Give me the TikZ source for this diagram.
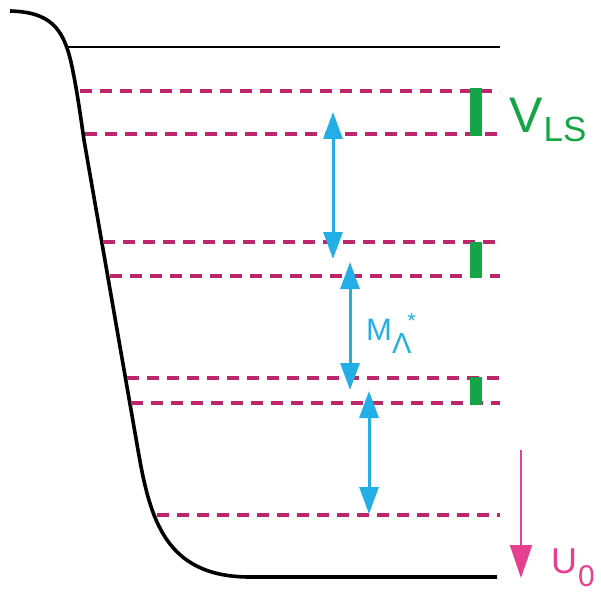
\documentclass[tikz,border=0pt]{standalone}
\usepackage{fontspec}
\setmainfont{Liberation Sans}
\usetikzlibrary{arrows.meta}
\definecolor{lvl}{RGB}{190,38,108}
\definecolor{grn}{RGB}{20,165,70}
\definecolor{blu}{RGB}{35,175,230}
\definecolor{pnk}{RGB}{228,64,142}
\tikzset{
  wall/.style={line width=3.6pt, black, line join=round},
  lvlline/.style={line width=4pt, lvl, dash pattern=on 12pt off 8pt},
  gbar/.style={line width=12pt, grn},
  barrow/.style={line width=3pt, blu, {Triangle[length=27pt,width=19pt]}-{Triangle[length=27pt,width=19pt]}},
  parrow/.style={line width=2.2pt, pnk, -{Triangle[length=33pt,width=22pt]}},
  lbl/.style={inner sep=0pt, anchor=base west}
}
\begin{document}
\begin{tikzpicture}[x=1pt,y=-1pt]
\useasboundingbox (0,0) rectangle (601,596);
% well
\draw[wall] (10,11) .. controls (50,12) and (63,28) .. (71,62)
  .. controls (76,85) and (79,105) .. (84,140) -- (138,450)
  .. controls (150,519) and (165,577) .. (250,577) -- (497,577) coordinate (bot);
% top line
\coordinate (t0) at (67,47); \coordinate (t1) at (500,47);
\draw[line width=2.2pt] (t0) -- (t1);
% levels
\foreach \n/\xs/\y in {a/80/91, b/85/134, c/103/242, d/110/276, e/127/378, f/131/403, g/157/515}{
  \coordinate (\n0) at (\xs,\y); \coordinate (\n1) at (500,\y);
  \draw[lvlline] (\n0) -- (\n1);
}
% green bars
\coordinate (ga) at (476,88); \coordinate (gb) at (476,136);
\coordinate (gc) at (476,242); \coordinate (gd) at (476,278);
\coordinate (ge) at (476,377); \coordinate (gf) at (476,405);
\draw[gbar] (ga) -- (gb);
\draw[gbar] (gc) -- (gd);
\draw[gbar] (ge) -- (gf);
% blue arrows
\coordinate (p1) at (333,112); \coordinate (q1) at (333,259);
\coordinate (p2) at (350,262); \coordinate (q2) at (350,390);
\coordinate (p3) at (369,391); \coordinate (q3) at (369,514);
\draw[barrow] (p1) -- (q1);
\draw[barrow] (p2) -- (q2);
\draw[barrow] (p3) -- (q3);
% pink arrow
\coordinate (u1) at (521,450); \coordinate (u2) at (521,578);
\draw[parrow] (u1) -- (u2);
% labels
\node[lbl, text=grn] (vls) at (509,133) {\fontsize{50}{50}\selectfont V\kern1pt\raisebox{-9pt}{\fontsize{35}{35}\selectfont LS}};
\node[lbl, text=blu] (mlam) at (366,340) {\fontsize{31}{31}\selectfont M\kern0pt\raisebox{-13pt}{\fontsize{29}{29}\selectfont Λ}\kern-4pt\raisebox{12pt}{\fontsize{22}{22}\selectfont *}};
\node[lbl, text=pnk] (u0) at (551,573) {\fontsize{36}{36}\selectfont U\kern1pt\raisebox{-13pt}{\fontsize{30}{30}\selectfont 0}};
\end{tikzpicture}
\end{document}
